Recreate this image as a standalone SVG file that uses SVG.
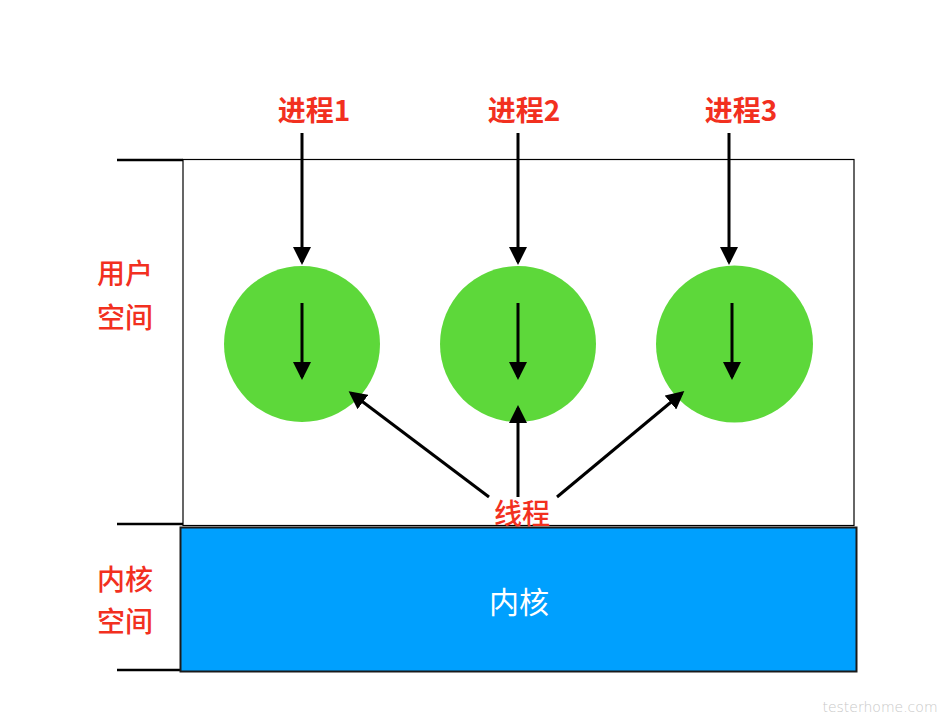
<svg xmlns="http://www.w3.org/2000/svg" width="951" height="727" viewBox="0 0 951 727">
<style>
.red{fill:#F2301F;font-family:"Noto Sans CJK SC","Liberation Sans",sans-serif;}
.lbl{font-size:28px;font-weight:bold;text-anchor:middle;}
.side{font-size:28px;font-weight:500;text-anchor:middle;}
.ln{stroke:#000;stroke-width:3;fill:none;}
.tick{stroke:#000;stroke-width:2.5;}
.circ{fill:#5DD83A;}
</style>
<defs>
<marker id="ah" markerWidth="6" markerHeight="6" refX="5" refY="3" orient="auto" markerUnits="strokeWidth">
<path d="M0,0 L6,3 L0,6 z" fill="#000"/>
</marker>
</defs>
<rect width="951" height="727" fill="#fff"/>
<g id="user-space">
<rect x="183" y="159.5" width="671" height="366" fill="#fff" stroke="#000" stroke-width="1.2"/>
</g>
<g id="ticks">
<line class="tick" x1="117" y1="160" x2="183" y2="160"/>
<line class="tick" x1="117" y1="524" x2="183" y2="524"/>
<line class="tick" x1="117" y1="670" x2="183" y2="670"/>
</g>
<g id="kernel">
<rect x="180.5" y="527.5" width="676" height="144" fill="#00A0FE" stroke="#1a1a1a" stroke-width="2"/>
<text x="519" y="613" font-family="Noto Sans CJK SC, Liberation Sans, sans-serif" font-size="30" fill="#fff" text-anchor="middle">内核</text>
</g>
<g id="process1">
<circle class="circ" cx="302" cy="344" r="78"/>
<text class="red lbl" x="314" y="121">进程1</text>
</g>
<g id="process2">
<circle class="circ" cx="518" cy="344" r="78"/>
<text class="red lbl" x="524" y="121">进程2</text>
</g>
<g id="process3">
<circle class="circ" cx="734.5" cy="344" r="78.5"/>
<text class="red lbl" x="741" y="121">进程3</text>
</g>
<g id="labels">
<text class="red side" x="125" y="284">用户</text>
<text class="red side" x="125" y="328">空间</text>
<text class="red side" x="125" y="590">内核</text>
<text class="red side" x="125" y="632">空间</text>
<text class="red side" x="522" y="524" font-size="30">线程</text>
</g>
<g id="connectors">
<line class="ln" x1="302" y1="133" x2="302" y2="262" marker-end="url(#ah)"/>
<line class="ln" x1="302" y1="303" x2="302" y2="377" marker-end="url(#ah)"/>
<line class="ln" x1="518" y1="133" x2="518" y2="262" marker-end="url(#ah)"/>
<line class="ln" x1="518" y1="303" x2="518" y2="377" marker-end="url(#ah)"/>
<line class="ln" x1="729" y1="133" x2="729" y2="262" marker-end="url(#ah)"/>
<line class="ln" x1="732" y1="303" x2="732" y2="377" marker-end="url(#ah)"/>
<line class="ln" x1="518" y1="497" x2="518" y2="408" marker-end="url(#ah)"/>
<line class="ln" x1="489" y1="497" x2="351" y2="393" marker-end="url(#ah)"/>
<line class="ln" x1="557" y1="497" x2="682" y2="393" marker-end="url(#ah)"/>
</g>
<text x="880" y="712" font-family="DejaVu Sans, sans-serif" font-size="14" font-weight="200" fill="#c8c8c8" text-anchor="middle">testerhome.com</text>
</svg>
